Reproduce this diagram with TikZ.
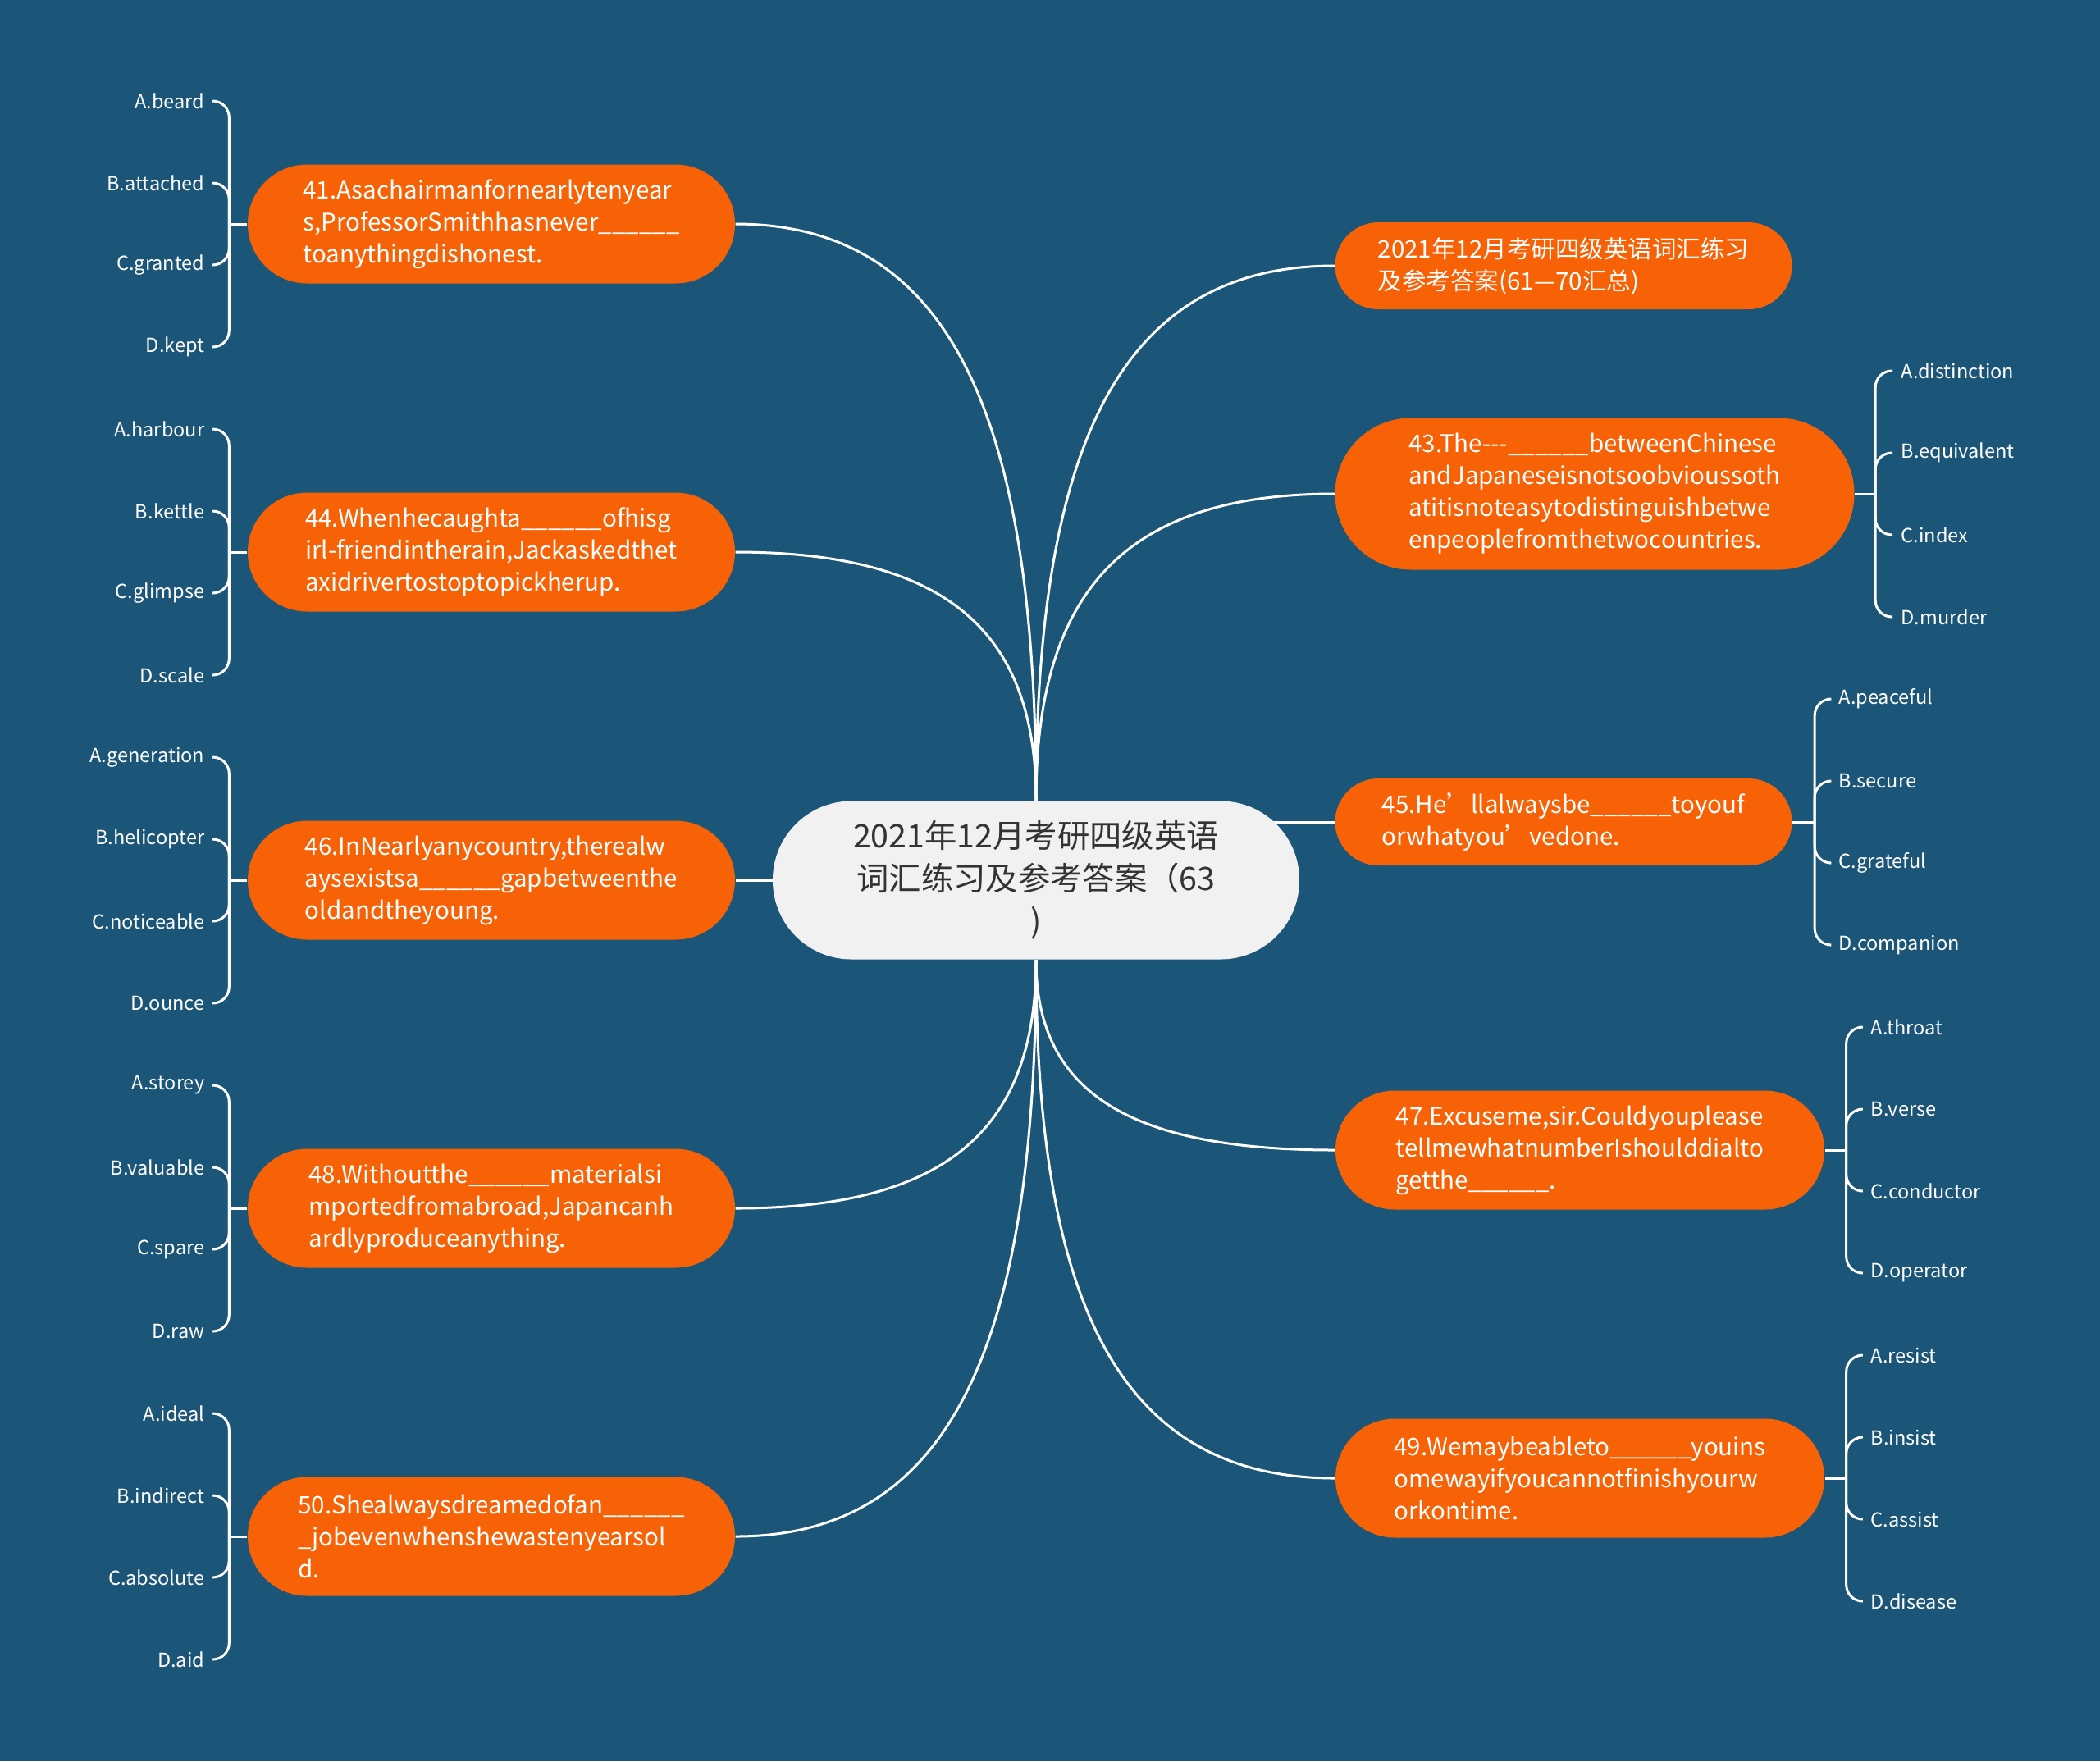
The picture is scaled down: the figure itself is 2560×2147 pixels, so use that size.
\documentclass[tikz,border=0pt]{standalone}
\usepackage{fontspec}
\setmainfont{Noto Sans CJK SC}

\definecolor{bgblue}{HTML}{1B5679}
\definecolor{qorange}{HTML}{F86207}
\definecolor{rootgray}{HTML}{F1F1F1}
\definecolor{roottext}{HTML}{333333}

\pgfdeclarelayer{bottom}
\pgfdeclarelayer{links}
\pgfsetlayers{bottom,links,main}

\tikzstyle{root} = [fill=rootgray, text=roottext, rounded corners=9.6mm, minimum width=64.2mm, minimum height=19.3mm, align=center, inner sep=0pt, font=\fontsize{11.2}{14.8}\selectfont]
\tikzstyle{topic} = [fill=qorange, text=white, align=left, inner sep=0pt, font=\fontsize{8.4}{11.1}\selectfont]
\tikzstyle{twoline} = [topic, minimum height=10.6mm, rounded corners=5.3mm]
\tikzstyle{threeline} = [topic, minimum height=14.5mm, rounded corners=7.25mm]
\tikzstyle{fourline} = [topic, minimum height=18.5mm, rounded corners=9.25mm]
\tikzstyle{leaf} = [text=white, inner sep=1mm, font=\fontsize{6.7}{8}\selectfont]
\tikzstyle{link} = [draw=white, line width=0.3mm]
\tikzstyle{hook} = [link, rounded corners=2mm]

\begin{document}
\begin{tikzpicture}[x=0.1mm, y=-0.1mm]
\begin{pgfonlayer}{bottom}
\fill[bgblue] (0,0) rectangle (2560,2147);
\end{pgfonlayer}

% centre
\node[root] (cen) at (1263,1073) {2021年12月考研四级英语\\词汇练习及参考答案（63\\)};

% left topics
\node[threeline, minimum width=59.4mm] (n41) at (599,273) {41.Asachairmanfornearlytenyear\\s,ProfessorSmithhasnever\_\_\_\_\_\_\\toanythingdishonest.};
\node[threeline, minimum width=59.4mm] (n44) at (599,673) {44.Whenhecaughta\_\_\_\_\_\_ofhisg\\irl-friendintherain,Jackaskedthet\\axidrivertostoptopickherup.};
\node[threeline, minimum width=59.4mm] (n46) at (599,1073) {46.InNearlyanycountry,therealw\\aysexistsa\_\_\_\_\_\_gapbetweenthe\\oldandtheyoung.};
\node[threeline, minimum width=59.4mm] (n48) at (599,1473) {48.Withoutthe\_\_\_\_\_\_materialsi\\mportedfromabroad,Japancanh\\ardlyproduceanything.};
\node[threeline, minimum width=59.4mm] (n50) at (599,1873) {50.Shealwaysdreamedofan\_\_\_\_\_\_\\\_jobevenwhenshewastenyearsol\\d.};

% right topics
\node[twoline, minimum width=55.7mm] (nsum) at (1906,324) {2021年12月考研四级英语词汇练习\\及参考答案(61—70汇总)};
\node[fourline, minimum width=63.3mm] (n43) at (1944,602) {43.The-{}-{}-\_\_\_\_\_\_betweenChinese\\andJapaneseisnotsoobvioussoth\\atitisnoteasytodistinguishbetwe\\enpeoplefromthetwocountries.};
\node[twoline, minimum width=55.7mm] (n45) at (1906,1002) {45.He’llalwaysbe\_\_\_\_\_\_toyouf\\orwhatyou’vedone.};
\node[threeline, minimum width=59.6mm] (n47) at (1926,1402) {47.Excuseme,sir.Couldyouplease\\tellmewhatnumberIshoulddialto\\getthe\_\_\_\_\_\_.};
\node[threeline, minimum width=59.6mm] (n49) at (1926,1802) {49.Wemaybeableto\_\_\_\_\_\_youins\\omewayifyoucannotfinishyourw\\orkontime.};

% centre to topics
\begin{pgfonlayer}{links}
\draw[link] (cen.north) .. controls +(0,-478) and +(257,0) .. (n41.east);
\draw[link] (cen.north) .. controls +(0,-206) and +(257,0) .. (n44.east);
\draw[link] (cen.center) -- (n46.east);
\draw[link] (cen.south) .. controls +(0,207) and +(257,0) .. (n48.east);
\draw[link] (cen.south) .. controls +(0,479) and +(257,0) .. (n50.east);
\draw[link] (cen.north) .. controls +(0,-443) and +(-256,0) .. (nsum.west);
\draw[link] (cen.north) .. controls +(0,-254) and +(-256,0) .. (n43.west);
\draw[link] (n45.west) -- (n45.west -| cen.center);
\draw[link] (cen.south) .. controls +(0,158) and +(-256,0) .. (n47.west);
\draw[link] (cen.south) .. controls +(0,430) and +(-256,0) .. (n49.west);
\end{pgfonlayer}

% answers of 41
\draw[link] (n41.west) -- ++(-22,0) coordinate (b41);
\node[leaf, anchor=east] (a41) at (260,123) {A.beard};
\node[leaf, anchor=east] (b41l) at (260,223) {B.attached};
\node[leaf, anchor=east] (c41) at (260,323) {C.granted};
\node[leaf, anchor=east] (d41) at (260,423) {D.kept};
\draw[hook] (b41) |- (a41.east);
\draw[hook] (b41) |- (b41l.east);
\draw[hook] (b41) |- (c41.east);
\draw[hook] (b41) |- (d41.east);

% answers of 44
\draw[link] (n44.west) -- ++(-22,0) coordinate (b44);
\node[leaf, anchor=east] (a44) at (260,523) {A.harbour};
\node[leaf, anchor=east] (b44l) at (260,623) {B.kettle};
\node[leaf, anchor=east] (c44) at (260,723) {C.glimpse};
\node[leaf, anchor=east] (d44) at (260,823) {D.scale};
\draw[hook] (b44) |- (a44.east);
\draw[hook] (b44) |- (b44l.east);
\draw[hook] (b44) |- (c44.east);
\draw[hook] (b44) |- (d44.east);

% answers of 46
\draw[link] (n46.west) -- ++(-22,0) coordinate (b46);
\node[leaf, anchor=east] (a46) at (260,923) {A.generation};
\node[leaf, anchor=east] (b46l) at (260,1023) {B.helicopter};
\node[leaf, anchor=east] (c46) at (260,1123) {C.noticeable};
\node[leaf, anchor=east] (d46) at (260,1223) {D.ounce};
\draw[hook] (b46) |- (a46.east);
\draw[hook] (b46) |- (b46l.east);
\draw[hook] (b46) |- (c46.east);
\draw[hook] (b46) |- (d46.east);

% answers of 48
\draw[link] (n48.west) -- ++(-22,0) coordinate (b48);
\node[leaf, anchor=east] (a48) at (260,1323) {A.storey};
\node[leaf, anchor=east] (b48l) at (260,1423) {B.valuable};
\node[leaf, anchor=east] (c48) at (260,1523) {C.spare};
\node[leaf, anchor=east] (d48) at (260,1623) {D.raw};
\draw[hook] (b48) |- (a48.east);
\draw[hook] (b48) |- (b48l.east);
\draw[hook] (b48) |- (c48.east);
\draw[hook] (b48) |- (d48.east);

% answers of 50
\draw[link] (n50.west) -- ++(-22,0) coordinate (b50);
\node[leaf, anchor=east] (a50) at (260,1723) {A.ideal};
\node[leaf, anchor=east] (b50l) at (260,1823) {B.indirect};
\node[leaf, anchor=east] (c50) at (260,1923) {C.absolute};
\node[leaf, anchor=east] (d50) at (260,2023) {D.aid};
\draw[hook] (b50) |- (a50.east);
\draw[hook] (b50) |- (b50l.east);
\draw[hook] (b50) |- (c50.east);
\draw[hook] (b50) |- (d50.east);

% answers of 43
\draw[link] (n43.east) -- ++(25,0) coordinate (b43);
\node[leaf, anchor=west] (a43) at (2307,452) {A.distinction};
\node[leaf, anchor=west] (b43l) at (2307,552) {B.equivalent};
\node[leaf, anchor=west] (c43) at (2307,652) {C.index};
\node[leaf, anchor=west] (d43) at (2307,752) {D.murder};
\draw[hook] (b43) |- (a43.west);
\draw[hook] (b43) |- (b43l.west);
\draw[hook] (b43) |- (c43.west);
\draw[hook] (b43) |- (d43.west);

% answers of 45
\draw[link] (n45.east) -- ++(27,0) coordinate (b45);
\node[leaf, anchor=west] (a45) at (2231,852) {A.peaceful};
\node[leaf, anchor=west] (b45l) at (2231,952) {B.secure};
\node[leaf, anchor=west] (c45) at (2231,1052) {C.grateful};
\node[leaf, anchor=west] (d45) at (2231,1152) {D.companion};
\draw[hook] (b45) |- (a45.west);
\draw[hook] (b45) |- (b45l.west);
\draw[hook] (b45) |- (c45.west);
\draw[hook] (b45) |- (d45.west);

% answers of 47
\draw[link] (n47.east) -- ++(26,0) coordinate (b47);
\node[leaf, anchor=west] (a47) at (2270,1252) {A.throat};
\node[leaf, anchor=west] (b47l) at (2270,1352) {B.verse};
\node[leaf, anchor=west] (c47) at (2270,1452) {C.conductor};
\node[leaf, anchor=west] (d47) at (2270,1552) {D.operator};
\draw[hook] (b47) |- (a47.west);
\draw[hook] (b47) |- (b47l.west);
\draw[hook] (b47) |- (c47.west);
\draw[hook] (b47) |- (d47.west);

% answers of 49
\draw[link] (n49.east) -- ++(26,0) coordinate (b49);
\node[leaf, anchor=west] (a49) at (2270,1652) {A.resist};
\node[leaf, anchor=west] (b49l) at (2270,1752) {B.insist};
\node[leaf, anchor=west] (c49) at (2270,1852) {C.assist};
\node[leaf, anchor=west] (d49) at (2270,1952) {D.disease};
\draw[hook] (b49) |- (a49.west);
\draw[hook] (b49) |- (b49l.west);
\draw[hook] (b49) |- (c49.west);
\draw[hook] (b49) |- (d49.west);
\end{tikzpicture}
\end{document}
